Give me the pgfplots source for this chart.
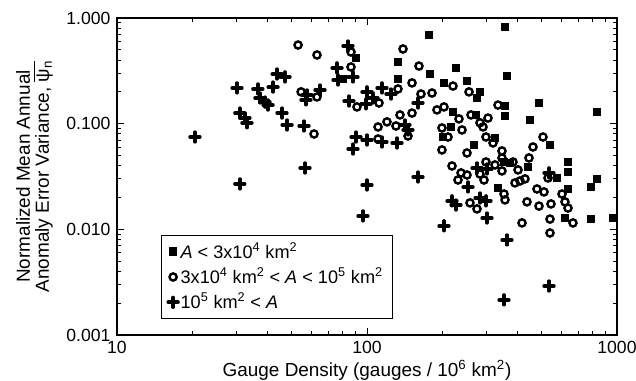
\documentclass[border=0pt]{standalone}
\usepackage{fontspec}
\setmainfont{Liberation Sans}
\usepackage{pgfplots}
\pgfplotsset{compat=1.18}
\begin{document}
\fontsize{14.2}{14.4}\selectfont
\begin{tikzpicture}
\begin{axis}[
  xmode=log, ymode=log,
  scale only axis, width=375pt, height=237.75pt,
  xmin=10, xmax=1000, ymin=0.001, ymax=1,
  xtick={10,100,1000}, xticklabels={10,100,1000},
  ytick={0.001,0.01,0.1,1}, yticklabels={0.001,0.010,0.100,1.000},
  tick label style={font=\fontsize{13.2}{14}\selectfont},
  tick align=inside, major tick length=5pt, minor tick length=3pt,
  axis line style={line width=0.8pt},
  every tick/.style={black, line width=0.7pt},
  xlabel={Gauge Density (gauges / 10\textsuperscript{6} km\textsuperscript{2})},
  ylabel={Normalized Mean Annual\\Anomaly Error Variance, $\overline{\hbox{ψ\textsubscript{n}}}$},
  ylabel style={align=center, at={(axis description cs:-0.115,0.5)}, anchor=south},
  xlabel style={at={(axis description cs:0.5,-0.13)}, anchor=base},
  legend style={at={(rel axis cs:0.088,0.3155)}, anchor=north west, draw=black, line width=1pt,
    inner xsep=5pt, inner ysep=3pt, row sep=1pt, font=\fontsize{13.6}{14}\selectfont},
  legend cell align=left,
]
\addplot[only marks, mark=square*, mark size=2.7pt, black] coordinates {
(90.4,0.418) (80.2,0.265) (177.0,0.691) (133.0,0.384) (133.0,0.265) (178.6,0.295)
(203.2,0.243) (227.0,0.337) (356.5,0.822) (363.1,0.283) (251.2,0.254) (283.1,0.200)
(275.4,0.175) (220.8,0.129) (272.9,0.121) (356.5,0.147) (356.5,0.118) (487.5,0.157)
(448.7,0.108) (831.8,0.129) (201.4,0.0748) (216.8,0.0931) (267.9,0.0629) (325.1,0.0732)
(539.5,0.0629) (353.2,0.0434) (373.3,0.0425) (440.6,0.0389) (636.8,0.0434) (636.8,0.0349)
(575.4,0.0306) (636.8,0.0241) (334.2,0.0246) (787.0,0.0252) (831.8,0.0300) (619.4,0.0128)
(787.0,0.0125) (963.8,0.0128)
};
\addlegendentry{\textit{A} < 3x10\textsuperscript{4} km\textsuperscript{2}}
\addplot[only marks, mark=o, mark size=2.7pt, black, mark options={line width=1.8pt}] coordinates {
(53.0,0.555) (63.1,0.447) (54.5,0.200) (63.1,0.179) (61.4,0.0799) (86.3,0.477)
(86.3,0.344) (91.2,0.144) (111.7,0.157) (110.7,0.0931) (120.2,0.104) (130.6,0.0951)
(110.7,0.0716) (133.0,0.213) (135.5,0.121) (139.3,0.509) (161.4,0.351) (151.4,0.243)
(164.4,0.191) (182.0,0.195) (151.4,0.126) (145.9,0.0765) (190.5,0.135) (203.2,0.144)
(199.5,0.0911) (210.9,0.0748) (199.5,0.0564) (220.8,0.227) (255.9,0.200) (233.3,0.111)
(239.9,0.0872) (260.6,0.121) (283.1,0.102) (304.8,0.113) (291.1,0.0931) (299.2,0.0748)
(319.2,0.0657) (334.2,0.150) (346.7,0.0552) (251.2,0.0528) (218.8,0.0398) (237.7,0.0342)
(251.2,0.0327) (231.2,0.0293) (299.2,0.0434) (325.1,0.0407) (346.7,0.0474) (383.7,0.0434)
(346.7,0.0357) (283.1,0.0334) (293.8,0.0293) (401.8,0.0365) (444.6,0.0474) (428.5,0.0300)
(390.8,0.0275) (409.3,0.0287) (478.6,0.0241) (510.5,0.0226) (353.2,0.0216) (356.5,0.0190)
(529.7,0.0306) (461.3,0.0602) (505.8,0.0748) (602.6,0.0216) (619.4,0.0182) (636.8,0.0159)
(258.2,0.0178) (275.4,0.0156) (436.5,0.0182) (487.5,0.0166) (544.5,0.0174) (416.9,0.0115)
(539.5,0.0125) (539.5,0.00924) (666.8,0.0115)
};
\addlegendentry{3x10\textsuperscript{4} km\textsuperscript{2} < \textit{A} < 10\textsuperscript{5} km\textsuperscript{2}}
\addplot[only marks, mark=+, mark size=3.6pt, black, mark options={line width=2.8pt, line cap=round}] coordinates {
(20.5,0.0748) (30.2,0.218) (31.0,0.126) (32.5,0.113) (33.1,0.102) (31.0,0.0269)
(36.6,0.213) (37.3,0.175) (39.1,0.160) (40.2,0.150) (42.1,0.222) (43.7,0.295)
(47.0,0.277) (45.7,0.126) (47.9,0.0972) (56.0,0.0951) (56.5,0.0381) (57.5,0.187)
(57.0,0.168) (64.9,0.208) (83.9,0.543) (75.9,0.337) (76.6,0.259) (87.9,0.277)
(84.7,0.164) (100,0.200) (99.1,0.154) (105.7,0.175) (114.8,0.218) (124.7,0.191)
(90.4,0.0748) (87.9,0.0576) (100,0.0701) (114.8,0.0671) (131.8,0.0657) (100,0.0263)
(96.4,0.0134) (141.9,0.0972) (145.9,0.0872) (160.0,0.157) (160.0,0.0313) (203.2,0.0108)
(218.8,0.0186) (227.0,0.0170) (253.5,0.0252) (275.4,0.0381) (302.0,0.0373) (283.1,0.0198)
(299.2,0.0186) (302.0,0.0128) (363.1,0.00794) (353.2,0.00215) (534.6,0.00291) (534.6,0.0342)
};
\addlegendentry{10\textsuperscript{5} km\textsuperscript{2} < \textit{A}}
\end{axis}
\pgfresetboundingbox
\path ([xshift=-87.75pt,yshift=-34.5pt]current axis.south west) rectangle ([xshift=14.25pt,yshift=13.5pt]current axis.north east);
\end{tikzpicture}
\end{document}
